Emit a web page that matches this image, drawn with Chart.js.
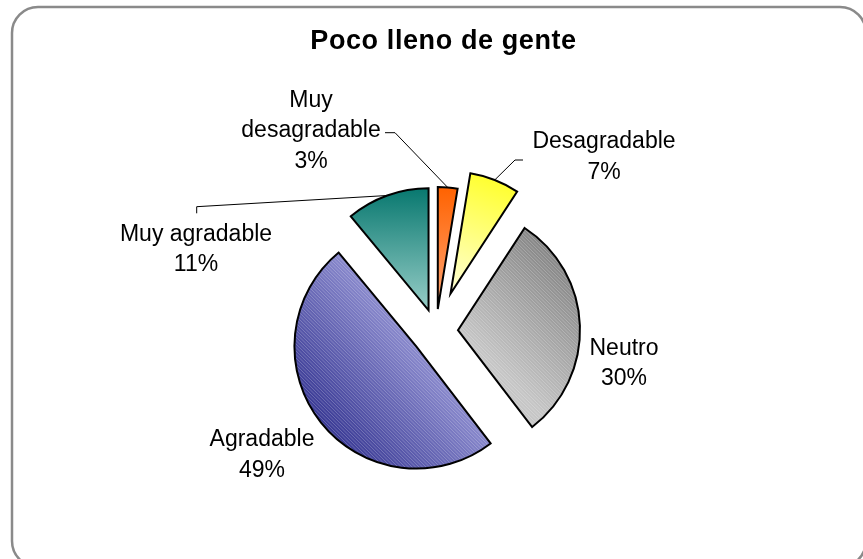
<!DOCTYPE html>
<html>
<head>
<meta charset="utf-8">
<script src="https://cdn.jsdelivr.net/npm/chart.js"></script>
<style>
  html, body { margin: 0; padding: 0; background: #ffffff; }
  canvas { display: block; }
</style>
</head>
<body>
<canvas id="c" width="863" height="559"></canvas>
<script>
// ---------- data ----------
const chartTitle = 'Poco lleno de gente';
const categories = ['Muy desagradable', 'Desagradable', 'Neutro', 'Agradable', 'Muy agradable'];
const labelLines = [['Muy', 'desagradable'], ['Desagradable'], ['Neutro'], ['Agradable'], ['Muy agradable']];
const shares = [2.6, 6.6, 30.4, 49.4, 11.0];
const percentLabels = shares.map(v => Math.round(v) + '%');

// ---------- styles ----------
const W = 863, H = 559;
const explode = [22, 40, 22, 25, 22];
const gradAngle = [0, null, 45, 231, 0];           // direction (deg, 0 = up, clockwise) of first colour
const gradColors = [
  ['#FF6200', '#FFA676'],
  ['#FFFF30', '#FFFFD8'],
  ['#868686', '#C6C6C6'],
  ['#3A3A95', '#8A8ACD'],
  ['#08786F', '#98CEC8']
];
const stripes = [false, false, true, true, false];
const labelOffset = [[-125, -200], [168, -174], [188, 32.5], [-174, 124], [-240, -81.5]];
const leaderPts = [
  [[84, 1.7], [74, 1.7]],
  [[-89, 3], [-81, 3]],
  null,
  null,
  [[0.7, -42.8], [0.7, -36.2]]
];
const labelFont = '23px "Liberation Sans", Arial, sans-serif';
const lineH = 30.5;
const titlePos = [443.5, 48.5];

function makeFill(chart, arc, i) {
  const off = document.createElement('canvas');
  off.width = W; off.height = H;
  const g = off.getContext('2d');
  const r = arc.outerRadius;
  const ang = gradAngle[i] === null ? (arc.startAngle + arc.endAngle) / 2 : (gradAngle[i] - 90) * Math.PI / 180;
  const ux = Math.cos(ang), uy = Math.sin(ang);
  const grad = g.createLinearGradient(arc.x + ux * r, arc.y + uy * r, arc.x, arc.y);
  grad.addColorStop(0, gradColors[i][0]);
  grad.addColorStop(1, gradColors[i][1]);
  g.fillStyle = grad;
  g.fillRect(0, 0, W, H);
  if (stripes[i]) {
    g.strokeStyle = 'rgba(255,255,255,0.22)';
    g.lineWidth = 1;
    g.beginPath();
    for (let k = -H; k < W; k += 3.5) {
      g.moveTo(k, 0);
      g.lineTo(k + H, H);
    }
    g.stroke();
  }
  return chart.ctx.createPattern(off, 'no-repeat');
}

const explodePlugin = {
  id: 'explodeSlices',
  afterDatasetsUpdate(chart) {
    const meta = chart.getDatasetMeta(0);
    meta.data.forEach((arc, i) => {
      const mid = (arc.startAngle + arc.endAngle) / 2;
      arc.x += Math.cos(mid) * explode[i];
      arc.y += Math.sin(mid) * explode[i];
      arc.options = Object.assign({}, arc.options, { backgroundColor: makeFill(chart, arc, i) });
    });
  }
};

const framePlugin = {
  id: 'frame',
  beforeDraw(chart) {
    const c = chart.ctx;
    c.save();
    c.fillStyle = '#ffffff';
    c.fillRect(0, 0, W, H);
    c.strokeStyle = '#8a8a8a';
    c.lineWidth = 2.5;
    c.beginPath();
    c.roundRect(12, 7, 854, 560, 26);
    c.stroke();
    c.restore();
  }
};

const labelPlugin = {
  id: 'pieLabels',
  afterDraw(chart) {
    const c = chart.ctx;
    const meta = chart.getDatasetMeta(0);
    const ca = chart.chartArea;
    const cx = (ca.left + ca.right) / 2, cy = (ca.top + ca.bottom) / 2;
    c.save();
    c.fillStyle = '#000';
    c.textAlign = 'center';
    c.textBaseline = 'alphabetic';
    c.font = 'bold 27px "Liberation Sans", Arial, sans-serif';
    c.letterSpacing = '0.6px';
    c.fillText(chartTitle, titlePos[0], titlePos[1]);
    c.letterSpacing = '0px';

    c.font = labelFont;
    c.textBaseline = 'middle';
    meta.data.forEach((arc, i) => {
      const lx = cx + labelOffset[i][0], ly = cy + labelOffset[i][1];
      const lines = labelLines[i].concat([percentLabels[i]]);
      const n = lines.length;
      lines.forEach((t, k) => {
        c.fillText(t, lx, ly + (k - (n - 1) / 2) * lineH);
      });
      if (leaderPts[i]) {
        const mid = (arc.startAngle + arc.endAngle) / 2;
        const sx = arc.x + Math.cos(mid) * arc.outerRadius;
        const sy = arc.y + Math.sin(mid) * arc.outerRadius;
        c.strokeStyle = '#000';
        c.lineWidth = 1;
        c.beginPath();
        c.moveTo(sx, sy);
        leaderPts[i].forEach(p => c.lineTo(lx + p[0], ly + p[1]));
        c.stroke();
      }
    });
    c.restore();
  }
};

new Chart(document.getElementById('c'), {
  type: 'pie',
  data: {
    labels: categories,
    datasets: [{
      data: shares,
      backgroundColor: gradColors.map(g => g[0]),
      borderColor: '#000000',
      borderWidth: 2,
      borderJoinStyle: 'miter',
      radius: 122
    }]
  },
  options: {
    responsive: false,
    animation: false,
    events: [],
    devicePixelRatio: 1,
    layout: { padding: { left: 20, right: 11, top: 110, bottom: 7 } },
    plugins: {
      legend: { display: false },
      title: { display: false },
      tooltip: { enabled: false }
    }
  },
  plugins: [framePlugin, explodePlugin, labelPlugin]
});
</script>
</body>
</html>
